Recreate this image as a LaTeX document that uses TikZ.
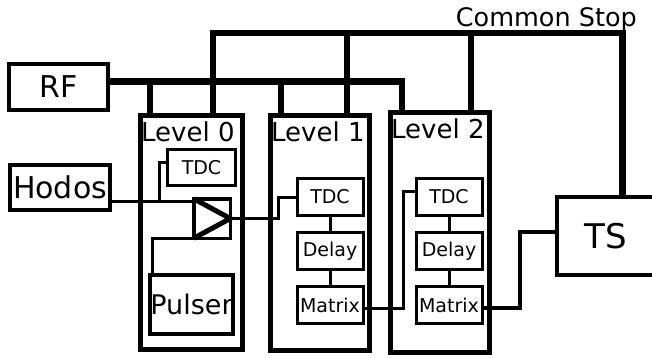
\documentclass[tikz,border=0pt]{standalone}
\usepackage{fontspec}
\setmainfont{DejaVu Sans}
\usetikzlibrary{positioning,calc}

\begin{document}
\begin{tikzpicture}[x=1pt,y=-1pt,
  box/.style={draw, line width=4pt, inner sep=0pt, font=\fontsize{30}{30}\selectfont},
  level/.style={draw, line width=5pt, inner sep=0pt, minimum width=99pt},
  small/.style={draw, line width=3pt, inner sep=0pt, minimum width=66pt, minimum height=37pt, font=\fontsize{19}{19}\selectfont},
  lab/.style={anchor=north west, inner sep=0pt, font=\fontsize{26}{26}\selectfont},
  bus/.style={line width=6.5pt},
  wire/.style={line width=3pt}]
\useasboundingbox (0,0) rectangle (652,358);
\coordinate (rfbus) at (0,81.5);
\coordinate (stopbus) at (0,33);

\node[box, minimum width=99pt, minimum height=46pt] (rf) at (58.5,87) {RF};
\node[box, minimum width=100pt, minimum height=45pt] (hodos) at (60,187.5) {Hodos};
\node[box, minimum width=97pt, minimum height=78pt, font=\fontsize{34}{34}\selectfont] (ts) at (605.5,236) {TS};

\node[level, minimum width=102pt, minimum height=234pt] (lvl0) at (191.5,232.5) {};
\node[level, minimum height=235pt] (lvl1) at (320,233) {};
\node[level, minimum height=240pt] (lvl2) at (440,232.5) {};
\foreach \l in {0,1,2}
  \node[lab] (lab\l) at ([xshift=3pt,yshift=-8.5pt]lvl\l.north west) {Level \l};

\node[small, minimum width=68pt, minimum height=36pt] (tdc0) at (201.5,167.5) {TDC};
\node[draw, line width=3.5pt, outer sep=0pt, minimum width=36.5pt, minimum height=39.5pt] (amp) at (212,218.5) {};
\draw[line width=5pt] (amp.north west) -- (amp.east) -- (amp.south west);
\node[box, minimum width=83pt, minimum height=59pt, font=\fontsize{27}{27}\selectfont] (pulser) at (191.5,304.5) {Pulser};

\foreach \n/\x in {1/330,2/449} {
  \node[small] (tdc\n) at (\x,197) {TDC};
  \node[small, below=14pt of tdc\n] (delay\n) {Delay};
  \node[small, below=14pt of delay\n] (matrix\n) {Matrix};
  \draw[wire] (tdc\n) -- (delay\n) (delay\n) -- (matrix\n);
}

\coordinate (ampin) at ([yshift=17pt]amp.west);
\draw[wire] (hodos.east |- ampin) -- (ampin);
\draw[wire] ([yshift=5pt]tdc0.west) -| ([xshift=-34pt]ampin);
\draw[wire] ([xshift=4pt]pulser.north west) |- (amp.south west);
\draw[wire] (amp.east) -| ([xshift=-17pt]tdc1.west) -- (tdc1.west);
\draw[wire] ([yshift=-3pt]matrix1.east) -| ([xshift=-11pt,yshift=6pt]tdc2.west) -- ([yshift=6pt]tdc2.west);
\draw[line width=4pt] ([yshift=-3pt]matrix2.east) -| ([xshift=-35pt,yshift=4pt]ts.west) -- ([yshift=4pt]ts.west);

\draw[bus] ([yshift=5.5pt]rf.east) -| ([xshift=14pt]lvl2.north west);
\foreach \l/\d in {0/12,1/13}
  \draw[bus] ([xshift=\d pt]lvl\l.north west) -- ([xshift=\d pt]lvl\l.north west |- rfbus);
\draw[bus] ([xshift=75pt]lvl0.north west) |- ([xshift=17pt]ts.north |- stopbus) -- ([xshift=17pt]ts.north);
\foreach \l/\d in {1/79,2/83}
  \draw[bus] ([xshift=\d pt]lvl\l.north west) -- ([xshift=\d pt]lvl\l.north west |- stopbus);
\node[anchor=base east, inner sep=0pt, font=\fontsize{25.5}{25.5}\selectfont] (stoplab) at (637,27) {Common Stop};
\end{tikzpicture}
\end{document}
